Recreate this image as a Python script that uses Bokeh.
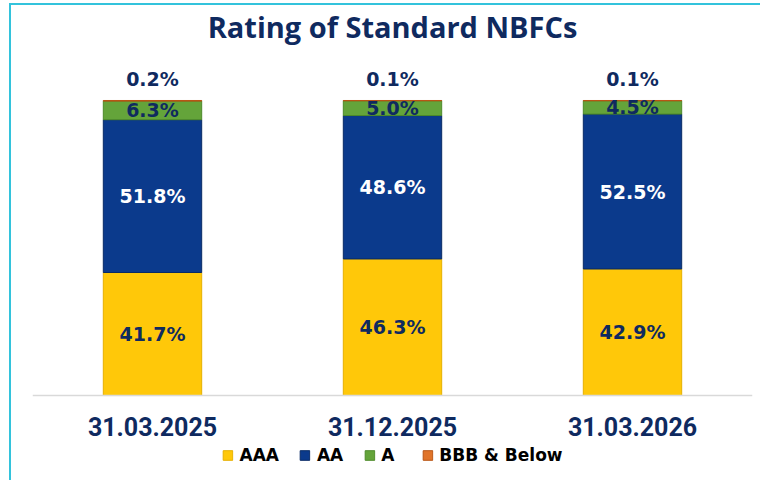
from bokeh.plotting import figure
from bokeh.models import ColumnDataSource, FactorRange, Range1d, Legend, LegendItem
from bokeh.core.properties import value
from bokeh.embed import file_html
from bokeh.resources import INLINE

dates = ["31.03.2025", "31.12.2025", "31.03.2026"]
series_names = ["AAA", "AA", "A", "BBB & Below"]
aaa = [41.7, 46.3, 42.9]
aa = [51.8, 48.6, 52.5]
a_vals = [6.3, 5.0, 4.5]
bbb = [0.2, 0.1, 0.1]

fill_colors = ["#FFC809", "#0B3A8C", "#64A43A", "#E0742A"]
edge_colors = ["#E6B000", "#082A66", "#4E8A2A", "#B85515"]
label_colors = ["#0F2A5F", "#FFFFFF", "#0F2A5F", "#0F2A5F"]
navy = "#0F2A5F"

keys = ["aaa", "aa", "a", "bbb"]
src = ColumnDataSource(dict(date=dates, aaa=aaa, aa=aa, a=a_vals, bbb=bbb))

W, H = 760, 480
p = figure(x_range=FactorRange(*dates), y_range=Range1d(-27.1, 118.3),
           width=W, height=H, output_backend="svg", toolbar_location=None,
           min_border_left=32, min_border_right=W - 752, min_border_top=46,
           min_border_bottom=H - 475)

renderers = p.vbar_stack(keys, x="date", width=0.41, source=src,
                         fill_color=fill_colors, line_color=edge_colors, line_width=1)

# segment labels
lx, ly, lt, lc, loff = [], [], [], [], []
series = [aaa, aa, a_vals, bbb]
for i, d in enumerate(dates):
    base = 0.0
    for k, s in enumerate(series):
        v = s[i]
        lx.append(d)
        lt.append(f"{v:.1f}%")
        lc.append(label_colors[k])
        if k == len(series) - 1:
            ly.append(base + v)
            loff.append(-21)
        else:
            ly.append(base + v / 2)
            loff.append(0)
        base += v
lsrc = ColumnDataSource(dict(x=lx, y=ly, t=lt, c=lc, off=loff))
p.text(x="x", y="y", text="t", source=lsrc, text_color="c", y_offset="off",
       text_align="center", text_baseline="middle",
       text_font=value("DejaVu Sans"), text_font_style="bold", text_font_size="19px")

legend = Legend(items=[LegendItem(label=n, renderers=[r]) for n, r in zip(series_names, renderers)],
                orientation="horizontal", location="bottom_center",
                glyph_width=12, glyph_height=12, label_standoff=6, spacing=20,
                padding=0, margin=10, border_line_color=None, background_fill_alpha=0,
                label_text_font="DejaVu Sans", label_text_font_style="bold",
                label_text_font_size="17px", label_text_color="black")
p.add_layout(legend, "center")

p.title.text = "Rating of Standard NBFCs"
p.title.align = "center"
p.title.text_font = "Open Sans"
p.title.text_font_style = "bold"
p.title.text_font_size = "29px"
p.title.text_color = navy
p.title.standoff = 2

p.yaxis.visible = False
p.xgrid.visible = False
p.ygrid.visible = False
p.outline_line_color = None
p.xaxis.fixed_location = 0
p.xaxis.axis_line_color = "#D9D9D9"
p.xaxis.axis_line_width = 1.5
p.xaxis.major_tick_line_color = None
p.xaxis.minor_tick_line_color = None
p.xaxis.major_label_standoff = 15
p.xaxis.major_label_text_font = "Roboto"
p.xaxis.major_label_text_font_style = "bold"
p.xaxis.major_label_text_font_size = "25px"
p.xaxis.major_label_text_color = navy

p.border_fill_alpha = 0
p.styles = {
    "background": "linear-gradient(#33C3DC, #33C3DC) 9px 3px / 2px 100% no-repeat, "
                  "linear-gradient(#33C3DC, #33C3DC) 9px 3px / 100% 2px no-repeat, #FFFFFF"
}

open("out.html", "w").write(file_html(p, INLINE))
